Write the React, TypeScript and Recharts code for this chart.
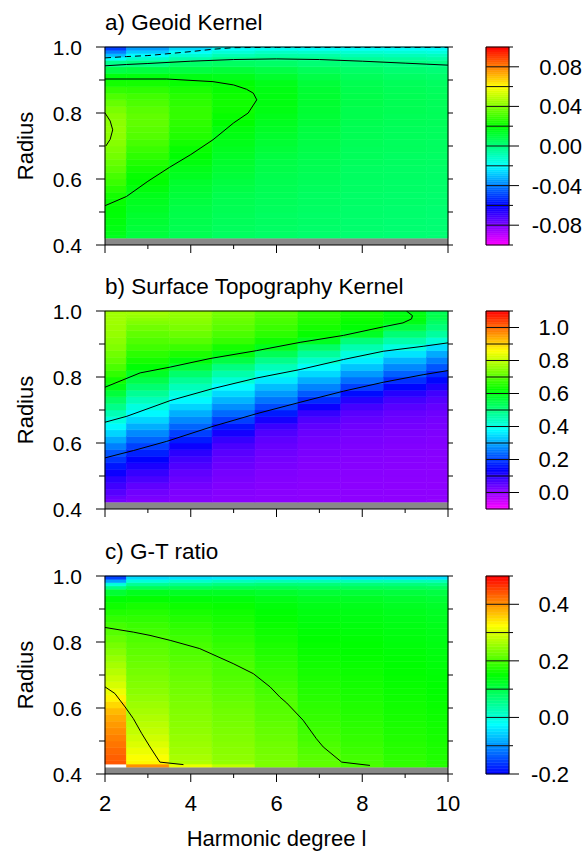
import { ComposedChart, XAxis, YAxis, ReferenceArea, ReferenceLine, Scatter } from "recharts"

const FONT = '"Liberation Sans", Arial, Helvetica, sans-serif'

// harmonic degrees (one heatmap column each) and radius axis
const DEGREES = [2, 3, 4, 5, 6, 7, 8, 9, 10]
const DEGREE_LABELS = [2, 4, 6, 8, 10]
const RADIUS_TICKS = [0.4, 0.5, 0.6, 0.7, 0.8, 0.9, 1.0]
const RADIUS_LABELS = [0.4, 0.6, 0.8, 1.0]
const CORE_TOP = 0.42
// row edges of the kernel grids, bottom to top
const RADIUS_EDGES = [
  0.42, 0.43, 0.44, 0.46, 0.48, 0.5, 0.52, 0.54, 0.56, 0.58, 0.6, 0.62, 0.64, 0.66, 0.68, 0.7, 0.72,
  0.74, 0.76, 0.78, 0.8, 0.82, 0.84, 0.86, 0.88, 0.9, 0.92, 0.94, 0.96, 0.97, 0.98, 0.99, 1.0,
]

// a) geoid kernel, one row of values per degree (rows follow RADIUS_EDGES)
const GEOID_KERNEL = [
  [0.015, 0.016, 0.017, 0.018, 0.019, 0.0195, 0.021, 0.023, 0.026, 0.029, 0.031, 0.034, 0.036, 0.038, 0.0395, 0.041, 0.042, 0.0425, 0.042, 0.041, 0.039, 0.036, 0.032, 0.028, 0.023, 0.018, 0.009, -0.002, -0.019, -0.03, -0.04, -0.05],
  [0.01, 0.0105, 0.011, 0.012, 0.013, 0.014, 0.015, 0.016, 0.018, 0.0197, 0.021, 0.023, 0.025, 0.027, 0.029, 0.031, 0.033, 0.034, 0.035, 0.035, 0.034, 0.032, 0.03, 0.027, 0.023, 0.018, 0.01, 0.0, -0.011, -0.02, -0.028, -0.035],
  [0.007, 0.007, 0.0075, 0.008, 0.0085, 0.009, 0.01, 0.011, 0.012, 0.013, 0.015, 0.016, 0.018, 0.0197, 0.021, 0.023, 0.025, 0.026, 0.027, 0.028, 0.028, 0.027, 0.026, 0.024, 0.021, 0.017, 0.01, 0.004, -0.006, -0.013, -0.0195, -0.026],
  [0.005, 0.005, 0.0055, 0.006, 0.0065, 0.007, 0.0075, 0.008, 0.009, 0.01, 0.011, 0.012, 0.013, 0.014, 0.015, 0.016, 0.017, 0.018, 0.02, 0.021, 0.022, 0.0225, 0.022, 0.021, 0.0195, 0.016, 0.011, 0.005, -0.002, -0.008, -0.014, -0.0195],
  [0.004, 0.004, 0.0045, 0.005, 0.005, 0.0055, 0.006, 0.0065, 0.007, 0.0075, 0.008, 0.0085, 0.009, 0.01, 0.011, 0.012, 0.013, 0.014, 0.015, 0.016, 0.017, 0.0175, 0.0175, 0.017, 0.016, 0.013, 0.009, 0.004, -0.001, -0.006, -0.011, -0.018],
  [0.003, 0.003, 0.0035, 0.004, 0.004, 0.0045, 0.005, 0.005, 0.0055, 0.006, 0.0065, 0.007, 0.0075, 0.008, 0.0085, 0.009, 0.0095, 0.01, 0.011, 0.0115, 0.012, 0.0125, 0.0125, 0.012, 0.011, 0.009, 0.006, 0.002, -0.002, -0.006, -0.012, -0.019],
  [0.0025, 0.0025, 0.003, 0.003, 0.0035, 0.0035, 0.004, 0.004, 0.0045, 0.0045, 0.005, 0.005, 0.0055, 0.006, 0.006, 0.0065, 0.007, 0.007, 0.0075, 0.008, 0.008, 0.0085, 0.0085, 0.008, 0.0075, 0.006, 0.004, 0.001, -0.004, -0.008, -0.013, -0.019],
  [0.002, 0.002, 0.0025, 0.0025, 0.003, 0.003, 0.0035, 0.0035, 0.004, 0.004, 0.0045, 0.0045, 0.005, 0.005, 0.0055, 0.0055, 0.006, 0.006, 0.0065, 0.0065, 0.007, 0.007, 0.007, 0.0065, 0.006, 0.0045, 0.0025, 0.0, -0.005, -0.009, -0.014, -0.019],
  [0.0018, 0.0018, 0.002, 0.002, 0.0025, 0.0025, 0.003, 0.003, 0.0035, 0.0035, 0.004, 0.004, 0.0045, 0.0045, 0.005, 0.005, 0.0055, 0.0055, 0.006, 0.006, 0.006, 0.006, 0.006, 0.0055, 0.005, 0.0035, 0.0015, -0.001, -0.006, -0.01, -0.015, -0.0195],
]

// b) surface topography kernel
const TOPO_KERNEL = [
  [0.03, 0.04, 0.06, 0.08, 0.1, 0.13, 0.16, 0.19, 0.22, 0.26, 0.3, 0.34, 0.375, 0.41, 0.45, 0.49, 0.525, 0.565, 0.6, 0.635, 0.665, 0.69, 0.71, 0.725, 0.74, 0.75, 0.76, 0.765, 0.77, 0.77, 0.77, 0.77],
  [0.02, 0.025, 0.035, 0.05, 0.07, 0.09, 0.115, 0.14, 0.17, 0.2, 0.235, 0.27, 0.305, 0.34, 0.375, 0.41, 0.445, 0.48, 0.515, 0.55, 0.585, 0.615, 0.64, 0.66, 0.68, 0.695, 0.71, 0.725, 0.74, 0.75, 0.76, 0.77],
  [0.015, 0.018, 0.022, 0.03, 0.04, 0.05, 0.065, 0.08, 0.1, 0.13, 0.165, 0.2, 0.235, 0.27, 0.305, 0.34, 0.375, 0.41, 0.445, 0.48, 0.52, 0.565, 0.61, 0.645, 0.675, 0.7, 0.72, 0.735, 0.745, 0.75, 0.755, 0.76],
  [0.01, 0.012, 0.015, 0.02, 0.025, 0.03, 0.038, 0.046, 0.056, 0.07, 0.09, 0.12, 0.16, 0.2, 0.24, 0.275, 0.31, 0.345, 0.38, 0.42, 0.46, 0.5, 0.555, 0.605, 0.64, 0.67, 0.69, 0.705, 0.715, 0.72, 0.725, 0.73],
  [0.008, 0.009, 0.011, 0.014, 0.017, 0.02, 0.025, 0.03, 0.036, 0.043, 0.052, 0.065, 0.085, 0.12, 0.165, 0.21, 0.25, 0.285, 0.32, 0.36, 0.4, 0.445, 0.49, 0.54, 0.595, 0.635, 0.66, 0.675, 0.685, 0.69, 0.695, 0.7],
  [0.006, 0.007, 0.008, 0.01, 0.012, 0.014, 0.017, 0.02, 0.024, 0.028, 0.033, 0.04, 0.05, 0.065, 0.09, 0.13, 0.18, 0.225, 0.265, 0.305, 0.345, 0.385, 0.43, 0.475, 0.525, 0.59, 0.625, 0.64, 0.65, 0.655, 0.66, 0.66],
  [0.005, 0.006, 0.007, 0.008, 0.009, 0.011, 0.013, 0.015, 0.018, 0.021, 0.025, 0.03, 0.036, 0.044, 0.056, 0.075, 0.105, 0.15, 0.2, 0.245, 0.285, 0.325, 0.365, 0.41, 0.455, 0.505, 0.585, 0.615, 0.625, 0.632, 0.636, 0.64],
  [0.004, 0.005, 0.006, 0.007, 0.008, 0.009, 0.011, 0.013, 0.015, 0.018, 0.021, 0.025, 0.03, 0.036, 0.044, 0.056, 0.075, 0.105, 0.145, 0.185, 0.23, 0.27, 0.31, 0.355, 0.41, 0.46, 0.51, 0.56, 0.598, 0.606, 0.61, 0.602],
  [0.003, 0.004, 0.005, 0.006, 0.007, 0.008, 0.009, 0.011, 0.013, 0.015, 0.018, 0.021, 0.025, 0.03, 0.037, 0.046, 0.06, 0.08, 0.11, 0.145, 0.18, 0.22, 0.26, 0.3, 0.35, 0.42, 0.47, 0.505, 0.525, 0.54, 0.55, 0.54],
]

// c) G-T ratio (null = no value)
const GT_RATIO = [
  [null, 0.44, 0.435, 0.428, 0.42, 0.412, 0.403, 0.394, 0.384, 0.372, 0.352, 0.332, 0.312, 0.297, 0.286, 0.275, 0.264, 0.253, 0.242, 0.231, 0.22, 0.209, 0.197, 0.184, 0.172, 0.16, 0.148, 0.115, 0.06, 0.0, -0.09, -0.155],
  [0.4, 0.33, 0.322, 0.312, 0.301, 0.292, 0.284, 0.277, 0.27, 0.263, 0.257, 0.251, 0.245, 0.24, 0.235, 0.23, 0.225, 0.22, 0.215, 0.21, 0.204, 0.197, 0.19, 0.182, 0.174, 0.165, 0.152, 0.13, 0.09, 0.05, 0.0, -0.05],
  [0.31, 0.27, 0.265, 0.26, 0.256, 0.252, 0.248, 0.245, 0.242, 0.239, 0.236, 0.233, 0.229, 0.226, 0.222, 0.218, 0.214, 0.209, 0.204, 0.199, 0.193, 0.187, 0.18, 0.173, 0.166, 0.158, 0.145, 0.125, 0.09, 0.055, 0.01, -0.045],
  [0.28, 0.25, 0.247, 0.244, 0.241, 0.238, 0.235, 0.232, 0.229, 0.226, 0.222, 0.218, 0.214, 0.21, 0.206, 0.203, 0.201, 0.196, 0.19, 0.185, 0.18, 0.175, 0.17, 0.165, 0.16, 0.154, 0.143, 0.125, 0.095, 0.065, 0.02, -0.04],
  [0.235, 0.235, 0.232, 0.229, 0.226, 0.222, 0.219, 0.216, 0.212, 0.209, 0.206, 0.203, 0.198, 0.193, 0.188, 0.184, 0.18, 0.176, 0.172, 0.168, 0.164, 0.16, 0.156, 0.152, 0.148, 0.143, 0.135, 0.12, 0.095, 0.07, 0.025, -0.04],
  [0.215, 0.215, 0.211, 0.206, 0.2015, 0.197, 0.193, 0.189, 0.186, 0.183, 0.18, 0.177, 0.174, 0.171, 0.168, 0.165, 0.162, 0.159, 0.156, 0.153, 0.15, 0.147, 0.144, 0.141, 0.138, 0.134, 0.127, 0.113, 0.09, 0.068, 0.025, -0.04],
  [0.201, 0.198, 0.195, 0.191, 0.188, 0.185, 0.182, 0.179, 0.176, 0.173, 0.171, 0.168, 0.166, 0.163, 0.161, 0.158, 0.156, 0.153, 0.151, 0.149, 0.147, 0.144, 0.142, 0.139, 0.136, 0.132, 0.125, 0.112, 0.09, 0.068, 0.025, -0.045],
  [0.185, 0.183, 0.18, 0.177, 0.175, 0.172, 0.17, 0.167, 0.165, 0.163, 0.161, 0.159, 0.157, 0.155, 0.153, 0.151, 0.149, 0.147, 0.145, 0.143, 0.141, 0.139, 0.137, 0.134, 0.131, 0.127, 0.12, 0.108, 0.088, 0.066, 0.025, -0.045],
  [0.175, 0.173, 0.171, 0.169, 0.167, 0.165, 0.163, 0.161, 0.159, 0.157, 0.155, 0.153, 0.151, 0.149, 0.147, 0.146, 0.144, 0.142, 0.14, 0.138, 0.136, 0.134, 0.132, 0.129, 0.126, 0.122, 0.115, 0.104, 0.085, 0.063, 0.025, -0.045],
]

// contour lines [degree, radius]
const GEOID_ZERO = [[2, 0.943], [2.5, 0.947], [3, 0.95], [4, 0.957], [5, 0.962], [6, 0.964], [7, 0.962], [8, 0.957], [9, 0.951], [10, 0.945]]
const GEOID_NEG = [[2, 0.967], [2.5, 0.971], [3, 0.974], [4, 0.986], [4.5, 0.993], [5, 0.998], [6, 0.999], [8, 0.999], [10, 0.999]]
const GEOID_002 = [[2, 0.519], [2.5, 0.547], [3, 0.593], [3.5, 0.635], [4, 0.674], [4.52, 0.719], [5, 0.77], [5.34, 0.8], [5.54, 0.84], [5.46, 0.86], [5.3, 0.872], [5, 0.885], [4.52, 0.895], [3.44, 0.903], [2, 0.903]]
const GEOID_004 = [[2, 0.8], [2.12, 0.776], [2.18, 0.749], [2.12, 0.72], [2.02, 0.7]]
const TOPO_06 = [[2, 0.769], [2.82, 0.8125], [3.52, 0.83], [4.45, 0.856], [5.54, 0.88], [6.55, 0.905], [7.56, 0.926], [8.49, 0.952], [8.95, 0.964], [9.15, 0.976], [9.17, 0.986], [9.07, 0.996], [9.03, 1.0]]
const TOPO_04 = [[2, 0.663], [2.51, 0.681], [3.52, 0.7285], [4.52, 0.765], [5.54, 0.797], [6.55, 0.8226], [7.56, 0.853], [8.49, 0.878], [9.42, 0.893], [10, 0.9035]]
const TOPO_02 = [[2, 0.555], [2.66, 0.577], [3.44, 0.605], [4.52, 0.6506], [5.54, 0.689], [6.55, 0.7234], [7.56, 0.757], [8.49, 0.784], [9.42, 0.807], [10, 0.8195]]
const RATIO_02 = [[2, 0.844], [2.66, 0.83], [3.05, 0.82], [3.52, 0.805], [4.21, 0.78], [4.99, 0.7345], [5.46, 0.704], [5.85, 0.664], [6.08, 0.633], [6.24, 0.615], [6.62, 0.563], [6.93, 0.507], [7.09, 0.482], [7.52, 0.436], [8.18, 0.426]]
const RATIO_03 = [[2, 0.664], [2.23, 0.644], [2.47, 0.603], [2.66, 0.568], [2.86, 0.522], [3.05, 0.482], [3.28, 0.436], [3.83, 0.4285]]

// colour scales: [value, r, g, b]
const CMAP_GEOID = [[-0.1, 255, 0, 255], [-0.06, 0, 0, 255], [-0.02, 0, 255, 255], [0.02, 0, 255, 0], [0.06, 255, 255, 0], [0.1, 255, 0, 0]]
const CMAP_TOPO = [[-0.1, 255, 0, 255], [0.14, 0, 0, 255], [0.38, 0, 255, 255], [0.62, 0, 255, 0], [0.86, 255, 255, 0], [1.1, 255, 0, 0]]
const CMAP_RATIO = [[-0.2, 0, 0, 255], [-0.025, 0, 255, 255], [0.15, 0, 255, 0], [0.325, 255, 255, 0], [0.5, 255, 0, 0]]

const BAR_GEOID = [-0.1, -0.08, -0.06, -0.04, -0.02, 0, 0.02, 0.04, 0.06, 0.08, 0.1]
const BAR_GEOID_LABELS = [-0.08, -0.04, 0, 0.04, 0.08]
const BAR_TOPO = [-0.1, 0, 0.1, 0.2, 0.3, 0.4, 0.5, 0.6, 0.7, 0.8, 0.9, 1.0, 1.1]
const BAR_TOPO_LABELS = [0, 0.2, 0.4, 0.6, 0.8, 1.0]
const BAR_RATIO = [-0.2, -0.1, 0, 0.1, 0.2, 0.3, 0.4, 0.5]
const BAR_RATIO_LABELS = [-0.2, 0, 0.2, 0.4]

const toPts = (a: number[][]) => a.map(([x, y]) => ({ x, y }))
const has = (list: number[], v: number) => list.some((l) => Math.abs(l - v) < 1e-6)

function colorAt(stops: number[][], v: number) {
  let s = stops[stops.length - 1]
  let rgb = [s[1], s[2], s[3]]
  if (v <= stops[0][0]) rgb = [stops[0][1], stops[0][2], stops[0][3]]
  for (let i = 0; i < stops.length - 1; i++) {
    const a = stops[i]
    const b = stops[i + 1]
    if (v >= a[0] && v <= b[0]) {
      const t = (v - a[0]) / (b[0] - a[0])
      rgb = [1, 2, 3].map((k) => a[k] + (b[k] - a[k]) * t)
      break
    }
  }
  return `rgb(${rgb.map((c) => Math.round(c)).join(",")})`
}

const textStyle = { fontFamily: FONT, fill: "#000" }
const noDot = () => <g />

function LeftTick(props: any) {
  const { x, y, payload } = props
  const major = has(RADIUS_LABELS, payload.value)
  return (
    <g>
      <line x1={x} x2={x - (major ? 9 : 6)} y1={y} y2={y} stroke="#000" />
      {major && (
        <text x={x - 23} y={y} dy="0.36em" textAnchor="end" fontSize={21} {...textStyle}>
          {payload.value.toFixed(1)}
        </text>
      )}
    </g>
  )
}

function RightTick(props: any) {
  const { x, y } = props
  return <line x1={x} x2={x + 5} y1={y} y2={y} stroke="#000" />
}

function TopTick(props: any) {
  const { x, y, payload } = props
  const major = payload.value % 2 === 0
  return <line x1={x} x2={x} y1={y} y2={y - (major ? 8 : 4)} stroke="#000" />
}

function makeBottomTick(showLabels: boolean) {
  return (props: any) => {
    const { x, y, payload } = props
    const major = has(DEGREE_LABELS, payload.value)
    return (
      <g>
        <line x1={x} x2={x} y1={y} y2={y + (major ? 8 : 4)} stroke="#000" />
        {showLabels && major && (
          <text x={x} y={y + 29} dy="0.36em" textAnchor="middle" fontSize={22} {...textStyle}>
            {payload.value}
          </text>
        )}
      </g>
    )
  }
}

type Contour = { pts: number[][]; dashed?: boolean }

function Panel({ top, height, title, values, cmap, contours, xLabels }: {
  top: number
  height: number
  title: string
  values: (number | null)[][]
  cmap: number[][]
  contours: Contour[]
  xLabels: boolean
}) {
  const cells: any[] = []
  DEGREES.forEach((d, i) => {
    values[i].forEach((v, j) => {
      if (v === null) return
      const fill = colorAt(cmap, v)
      cells.push(
        <ReferenceArea
          key={`c${i}-${j}`}
          x1={Math.max(2, d - 0.5)}
          x2={Math.min(10, d + 0.5)}
          y1={RADIUS_EDGES[j]}
          y2={RADIUS_EDGES[j + 1]}
          fill={fill}
          fillOpacity={1}
          stroke={fill}
          strokeWidth={0.6}
          ifOverflow="visible"
        />
      )
    })
  })
  return (
    <div style={{ position: "absolute", left: 0, top }}>
      <div style={{ position: "absolute", left: 105, top: 12, fontSize: 22.5, lineHeight: "22px", fontFamily: FONT, whiteSpace: "nowrap" }}>
        {title}
      </div>
      <ComposedChart width={583} height={height} margin={{ top: 37, right: 125, bottom: 0, left: 0 }}>
        <XAxis
          dataKey="x"
          type="number"
          domain={[2, 10]}
          ticks={DEGREES}
          interval={0}
          height={height - 245}
          tickSize={0}
          tickMargin={0}
          tickLine={false}
          axisLine={false}
          tick={makeBottomTick(xLabels)}
          allowDataOverflow
          label={
            xLabels
              ? { value: "Harmonic degree l", position: "insideBottom", offset: 6, style: { fontSize: 22, ...textStyle } }
              : undefined
          }
        />
        <XAxis
          xAxisId="top"
          orientation="top"
          type="number"
          domain={[2, 10]}
          ticks={DEGREES}
          interval={0}
          height={10}
          tickSize={0}
          tickMargin={0}
          tickLine={false}
          axisLine={false}
          tick={TopTick}
          allowDataOverflow
        />
        <YAxis
          dataKey="y"
          type="number"
          domain={[0.4, 1]}
          ticks={RADIUS_TICKS}
          interval={0}
          width={105}
          tickSize={0}
          tickMargin={0}
          tickLine={false}
          axisLine={false}
          tick={LeftTick}
          allowDataOverflow
          label={{ value: "Radius", angle: -90, position: "insideLeft", offset: 25, style: { textAnchor: "middle", fontSize: 22, ...textStyle } }}
        />
        <YAxis
          yAxisId="right"
          orientation="right"
          type="number"
          domain={[0.4, 1]}
          ticks={RADIUS_TICKS}
          interval={0}
          width={10}
          tickSize={0}
          tickMargin={0}
          tickLine={false}
          axisLine={false}
          tick={RightTick}
          allowDataOverflow
        />
        {cells}
        <ReferenceArea x1={2} x2={10} y1={0.4} y2={CORE_TOP} fill="#888888" fillOpacity={1} stroke="none" />
        {contours.map((c, k) => (
          <Scatter
            key={`ct${k}`}
            data={toPts(c.pts)}
            line={{ stroke: "#000", strokeWidth: 1, strokeDasharray: c.dashed ? "6 4" : undefined }}
            lineType="joint"
            shape={noDot}
            isAnimationActive={false}
          />
        ))}
        <ReferenceArea x1={2} x2={10} y1={0.4} y2={1} fill="none" stroke="#000" strokeWidth={1} />
      </ComposedChart>
    </div>
  )
}

function ColorBar({ top, cmap, bounds, labels, digits, labelDx }: {
  top: number
  cmap: number[][]
  bounds: number[]
  labels: number[]
  digits: number
  labelDx: number
}) {
  const min = bounds[0]
  const max = bounds[bounds.length - 1]
  const strips: any[] = []
  const sub = 10
  for (let k = 0; k < bounds.length - 1; k++) {
    const step = (bounds[k + 1] - bounds[k]) / sub
    for (let m = 0; m < sub; m++) {
      const y1 = bounds[k] + step * m
      const fill = colorAt(cmap, y1 + step / 2)
      strips.push(
        <ReferenceArea key={`s${k}-${m}`} x1={0} x2={1} y1={y1} y2={y1 + step} fill={fill} fillOpacity={1} stroke={fill} strokeWidth={0.5} ifOverflow="visible" />
      )
    }
  }
  const tick = (props: any) => {
    const { x, y, payload } = props
    const major = has(labels, payload.value)
    return (
      <g>
        <line x1={x} x2={x + (major ? 10 : 4)} y1={y} y2={y} stroke="#000" />
        {major && (
          <text x={x + labelDx} y={y} dy="0.36em" textAnchor="end" fontSize={22} {...textStyle}>
            {payload.value.toFixed(digits)}
          </text>
        )}
      </g>
    )
  }
  // the two ends of the scale, so the chart has data for its axes
  const ends = [{ x: 0, y: min }, { x: 1, y: max }]
  return (
    <div style={{ position: "absolute", left: 480, top }}>
      <ComposedChart width={103} height={264} margin={{ top: 47, right: 0, bottom: 19, left: 6 }}>
        <XAxis dataKey="x" type="number" domain={[0, 1]} hide allowDataOverflow />
        <YAxis
          dataKey="y"
          type="number"
          orientation="right"
          domain={[min, max]}
          ticks={bounds}
          interval={0}
          width={74}
          tickSize={0}
          tickMargin={0}
          tickLine={false}
          axisLine={false}
          tick={tick}
          allowDataOverflow
        />
        {strips}
        {bounds.slice(1, -1).map((b) => (
          <ReferenceLine key={`b${b}`} y={b} stroke="#111" strokeWidth={1} />
        ))}
        <Scatter data={ends} shape={noDot} isAnimationActive={false} />
        <ReferenceArea x1={0} x2={1} y1={min} y2={max} fill="none" stroke="#000" strokeWidth={1} />
      </ComposedChart>
    </div>
  )
}

export default function App() {
  return (
    <div style={{ position: "absolute", left: 0, top: 0, width: 583, height: 852, background: "#fff", overflow: "hidden" }}>
      <Panel
        top={0}
        height={264}
        title="a) Geoid Kernel"
        values={GEOID_KERNEL}
        cmap={CMAP_GEOID}
        contours={[{ pts: GEOID_ZERO }, { pts: GEOID_NEG, dashed: true }, { pts: GEOID_002 }, { pts: GEOID_004 }]}
        xLabels={false}
      />
      <ColorBar top={0} cmap={CMAP_GEOID} bounds={BAR_GEOID} labels={BAR_GEOID_LABELS} digits={2} labelDx={73} />
      <Panel
        top={264}
        height={264}
        title="b) Surface Topography Kernel"
        values={TOPO_KERNEL}
        cmap={CMAP_TOPO}
        contours={[{ pts: TOPO_06 }, { pts: TOPO_04 }, { pts: TOPO_02 }]}
        xLabels={false}
      />
      <ColorBar top={264} cmap={CMAP_TOPO} bounds={BAR_TOPO} labels={BAR_TOPO_LABELS} digits={1} labelDx={60} />
      <Panel
        top={529}
        height={323}
        title="c) G-T ratio"
        values={GT_RATIO}
        cmap={CMAP_RATIO}
        contours={[{ pts: RATIO_02 }, { pts: RATIO_03 }]}
        xLabels={true}
      />
      <ColorBar top={529} cmap={CMAP_RATIO} bounds={BAR_RATIO} labels={BAR_RATIO_LABELS} digits={1} labelDx={60} />
    </div>
  )
}
